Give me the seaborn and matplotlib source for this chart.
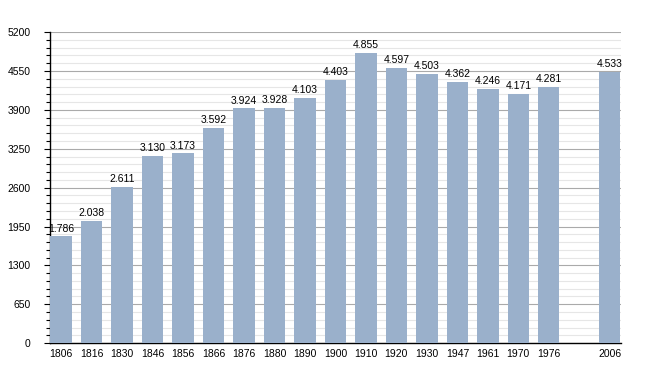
import pandas as pd
import matplotlib
matplotlib.use("Agg")
import matplotlib.pyplot as plt
from matplotlib.ticker import MultipleLocator
import seaborn as sns

years = ["1806", "1816", "1830", "1846", "1856", "1866", "1876", "1880", "1890",
         "1900", "1910", "1920", "1930", "1947", "1961", "1970", "1976", "2006"]
population = [1786, 2038, 2611, 3130, 3173, 3592, 3924, 3928, 4103,
              4403, 4855, 4597, 4503, 4362, 4246, 4171, 4281, 4533]
order = years[:-1] + [""] + years[-1:]

df = pd.DataFrame({"year": years, "pop": population})

sns.set_style("white")
plt.rcParams["font.family"] = ["Liberation Sans", "DejaVu Sans"]
plt.rcParams["text.color"] = "black"
plt.rcParams["xtick.color"] = "black"
plt.rcParams["ytick.color"] = "black"

fig = plt.figure(figsize=(6.5, 3.73), dpi=100)
ax = fig.add_axes([0.077, 0.080, 0.878, 0.834])

sns.barplot(data=df, x="year", y="pop", order=order, color="#9ab0cb",
            saturation=1, width=0.7, linewidth=0, ax=ax, zorder=3)

for p, v in zip(ax.patches, population):
    ax.annotate(f"{v:,}".replace(",", "."),
                (p.get_x() + p.get_width() / 2, p.get_height()),
                xytext=(0, 2), textcoords="offset points",
                ha="center", va="bottom", fontsize=7.5, color="black")

ax.set_ylim(0, 5200)
ax.set_xlim(-0.36, len(order) - 0.64)
ax.yaxis.set_major_locator(MultipleLocator(650))
ax.yaxis.set_minor_locator(MultipleLocator(130))
ax.grid(which="major", axis="y", color="#aaaaaa", linewidth=0.8, zorder=0)
ax.grid(which="minor", axis="y", color="#e6e6e6", linewidth=0.8, zorder=0)
ax.set_axisbelow(True)

ax.tick_params(axis="y", which="major", left=True, length=4, width=0.8,
               labelsize=7.5, pad=10, color="black", labelcolor="black")
ax.tick_params(axis="y", which="minor", left=True, length=3, width=0.8, color="black")
ax.tick_params(axis="x", length=0, labelsize=7.5, pad=4, labelcolor="black")

for s in ["top", "right"]:
    ax.spines[s].set_visible(False)
for s in ["left", "bottom"]:
    ax.spines[s].set_color("black")
    ax.spines[s].set_linewidth(1)

ax.set_xlabel("")
ax.set_ylabel("")

fig.savefig("out.png", dpi=100)
